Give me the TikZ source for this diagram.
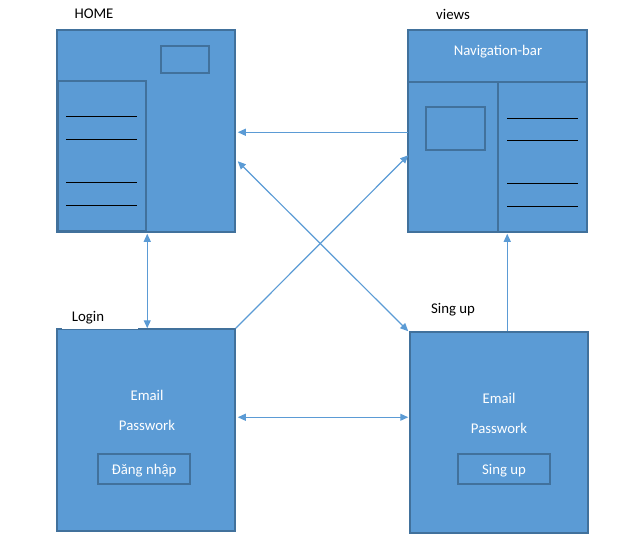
\documentclass[tikz,border=0pt]{standalone}
\usepackage{fontspec}
\setmainfont{Carlito}
\usetikzlibrary{arrows.meta,calc}
\definecolor{boxfill}{HTML}{5B9BD5}
\definecolor{boxline}{HTML}{41719C}
\definecolor{arrcol}{HTML}{5B9BD5}
\tikzset{
  box/.style={draw=boxline, fill=boxfill, line width=1.5pt, inner sep=0pt},
  part/.style={draw=boxline, line width=1.5pt},
  rule/.style={draw=black, line width=1pt},
  lbl/.style={font=\fontsize{14.8}{17}\selectfont, text=black, inner sep=0pt},
  wlbl/.style={font=\fontsize{14.8}{17}\selectfont, text=white, inner sep=0pt},
  btn/.style={draw=boxline, line width=1.5pt, inner sep=0pt},
  arr/.style={draw=arrcol, line width=1.2pt, -{Triangle[length=8pt,width=7pt]}},
  arrb/.style={draw=arrcol, line width=1.2pt, {Triangle[length=8pt,width=7pt]}-{Triangle[length=8pt,width=7pt]}}
}
\begin{document}
\begin{tikzpicture}[x=1pt,y=-1pt]
\useasboundingbox (0,0) rectangle (641,544);
% HOME
\node[box, minimum width=178pt, minimum height=202pt] (home) at (146,131) {};
\draw[part] (58,81) rectangle (146,231);
\draw[part] (161,46) rectangle (209,73);
\foreach \yy in {116,139,182,205} \draw[rule] (66,\yy) -- (137,\yy);
\node[lbl] (homelbl) at (94,14) {HOME};
% views
\node[box, minimum width=179pt, minimum height=202pt] (views) at (497.5,131) {};
\draw[part] (408,82) -- (587,82);
\draw[part] (498,82) -- (498,232);
\draw[part] (426,107) rectangle (485,150);
\foreach \yy in {118,140,183,206} \draw[rule] (507,\yy) -- (578,\yy);
\node[wlbl] (nav) at (498,52) {Navigation-bar};
\node[lbl] (viewslbl) at (453,14) {views};
% Login
\node[box, minimum width=178pt, minimum height=202pt] (login) at (146,430) {};
\fill[white] (62,310) rectangle (138,329.4);
\node[lbl] (loginlbl) at (88,318) {Login};
\node[wlbl] (lemail) at (147,395) {Email};
\node[wlbl] (lpass) at (147,425) {Passwork};
\node[btn, minimum width=92pt, minimum height=30pt] (lbtn) at (144,469) {};
\node[wlbl] (lbtntext) at ($(lbtn.center)+(0,1.5)$) {Đăng nhập};
% Sign up
\node[box, minimum width=178pt, minimum height=201pt] (signup) at (499,432.5) {};
\node[lbl] (signlbl) at (453,310) {Sing up};
\node[wlbl] (semail) at (499,398) {Email};
\node[wlbl] (spass) at (499,428) {Passwork};
\node[btn, minimum width=92pt, minimum height=30pt] (sbtn) at (504,469) {};
\node[wlbl] (sbtntext) at ($(sbtn.center)+(0,1.5)$) {Sing up};
% connectors
\draw[arr] ($(views.north west)+(1,103)$) -- ($(home.north east)+(2,103)$);
\draw[arrb] ($(home.north east)+(2,132)$) -- ($(signup.north west)+(-1,0)$);
\draw[arr] (login.north east) -- ($(views.north west)+(1,126)$);
\draw[arrb] ($(home.south west)+(91,1)$) -- ($(login.north west)+(91,0)$);
\draw[arrb] ($(login.north east)+(2,89)$) -- ($(signup.north west)+(-1,86)$);
\draw[arr] ($(signup.north west)+(98,0)$) -- ($(views.south west)+(100,1)$);
\end{tikzpicture}
\end{document}
